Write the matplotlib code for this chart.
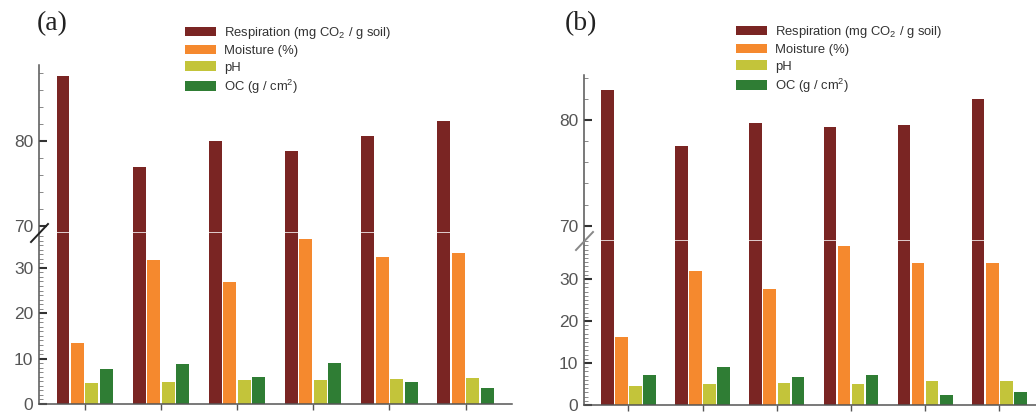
import matplotlib
matplotlib.use("Agg")
import matplotlib.pyplot as plt
import numpy as np
from matplotlib.patches import Patch
from matplotlib.ticker import MultipleLocator, FixedLocator

plt.rcParams['font.family'] = ['Liberation Sans', 'DejaVu Sans']
plt.rcParams['mathtext.default'] = 'regular'

# ---- data ----
sites = ['1', '2', '3', '4', '5', '6']
series_names = ['Respiration (mg CO$_2$ / g soil)', 'Moisture (%)', 'pH', 'OC (g / cm$^2$)']
series_colors = ['#7a2523', '#f5892e', '#c3c43a', '#2f7d34']

resp_a = [87.6, 76.9, 80.0, 78.8, 80.6, 82.4]
moist_a = [13.5, 31.7, 26.9, 36.4, 32.3, 33.2]
ph_a = [4.6, 4.9, 5.3, 5.2, 5.5, 5.7]
oc_a = [7.7, 8.9, 6.0, 9.0, 4.9, 3.5]

resp_b = [82.8, 77.5, 79.7, 79.3, 79.5, 82.0]
moist_b = [16.3, 31.9, 27.6, 37.9, 33.7, 33.9]
ph_b = [4.5, 5.1, 5.2, 5.1, 5.6, 5.8]
oc_b = [7.2, 9.0, 6.6, 7.2, 2.5, 3.1]

W, H = 1036, 413
fig = plt.figure(figsize=(W / 100, H / 100), dpi=100)


def px_axes(x0, x1, ytop, ybot):
    return fig.add_axes([x0 / W, 1 - ybot / H, (x1 - x0) / W, (ybot - ytop) / H])


def draw_panel(cfg, data, label, spine_col, break_col):
    x0, x1 = cfg['x']
    axu = px_axes(x0, x1, cfg['top'], cfg['brk'])
    axl = px_axes(x0, x1, cfg['brk'], cfg['bot'])
    x = np.arange(len(sites))
    width = 0.17
    for ax in (axu, axl):
        for i, (vals, col) in enumerate(zip(data, series_colors)):
            ax.bar(x + (i - 1.5) * 0.19, vals, width, color=col, edgecolor='none', zorder=2)
        ax.set_xlim(cfg['xlim'])
        for s in ('top', 'right'):
            ax.spines[s].set_visible(False)
        ax.spines['left'].set_color(spine_col)
        ax.spines['left'].set_linewidth(1.1)
        ax.tick_params(axis='y', direction='in', colors='#333333', labelcolor='#555555',
                       labelsize=12.5, length=6, width=1.5, pad=4)
        ax.tick_params(axis='y', which='minor', direction='in', colors='#888888',
                       length=3, width=0.7)
    axu.set_ylim(cfg['ulim'])
    axl.set_ylim(cfg['llim'])
    axu.spines['bottom'].set_visible(False)
    axl.spines['top'].set_visible(False)
    axl.spines['bottom'].set_color(spine_col)
    axl.spines['bottom'].set_linewidth(1.1)
    axu.set_xticks([])
    axl.set_xticks(x)
    axl.set_xticklabels([])
    axl.tick_params(axis='x', direction='out', length=4, width=1.0, colors=spine_col)
    axu.yaxis.set_major_locator(FixedLocator([70, 80]))
    axu.yaxis.set_minor_locator(MultipleLocator(2))
    axl.yaxis.set_major_locator(FixedLocator([0, 10, 20, 30]))
    axl.yaxis.set_minor_locator(MultipleLocator(1))
    # white break line across bars
    axu.axhline(cfg['ulim'][0], xmin=0.02, xmax=1, color='white', lw=1.8, zorder=3, clip_on=False)
    # break marker
    bx, by = x0, cfg['brk']
    fig.add_artist(plt.Line2D([(bx - 8) / W, (bx + 9) / W], [1 - (by + 9) / H, 1 - (by - 9) / H],
                              color=break_col, lw=1.4))
    # panel label
    fig.text(cfg['lab'][0] / W, 1 - cfg['lab'][1] / H, label, family='Liberation Serif',
             fontsize=20, ha='left', va='center', color='#222222')
    handles = [Patch(facecolor=c, edgecolor='none') for c in series_colors]
    fig.legend(handles, series_names, loc='upper left',
               bbox_to_anchor=(cfg['leg'][0] / W, 1 - cfg['leg'][1] / H),
               frameon=False, fontsize=9.4, handlelength=2.4, handleheight=0.75,
               handletextpad=0.6, labelspacing=0.3, borderpad=0, borderaxespad=0,
               labelcolor='#333333')


cfg_a = dict(x=(39, 512), top=65, brk=233, bot=404, xlim=(-0.6, 5.61),
             ulim=(69.18, 88.94), llim=(0, 37.67), lab=(37, 24), leg=(185, 25))
cfg_b = dict(x=(584, 1036), top=75, brk=241, bot=405, xlim=(-0.6, 5.495),
             ulim=(68.55, 84.26), llim=(0, 39.05), lab=(565, 24), leg=(736, 24))

draw_panel(cfg_a, [resp_a, moist_a, ph_a, oc_a], '(a)', '#555555', '#222222')
draw_panel(cfg_b, [resp_b, moist_b, ph_b, oc_b], '(b)', '#555555', '#888888')

fig.savefig('out.png', dpi=100)
